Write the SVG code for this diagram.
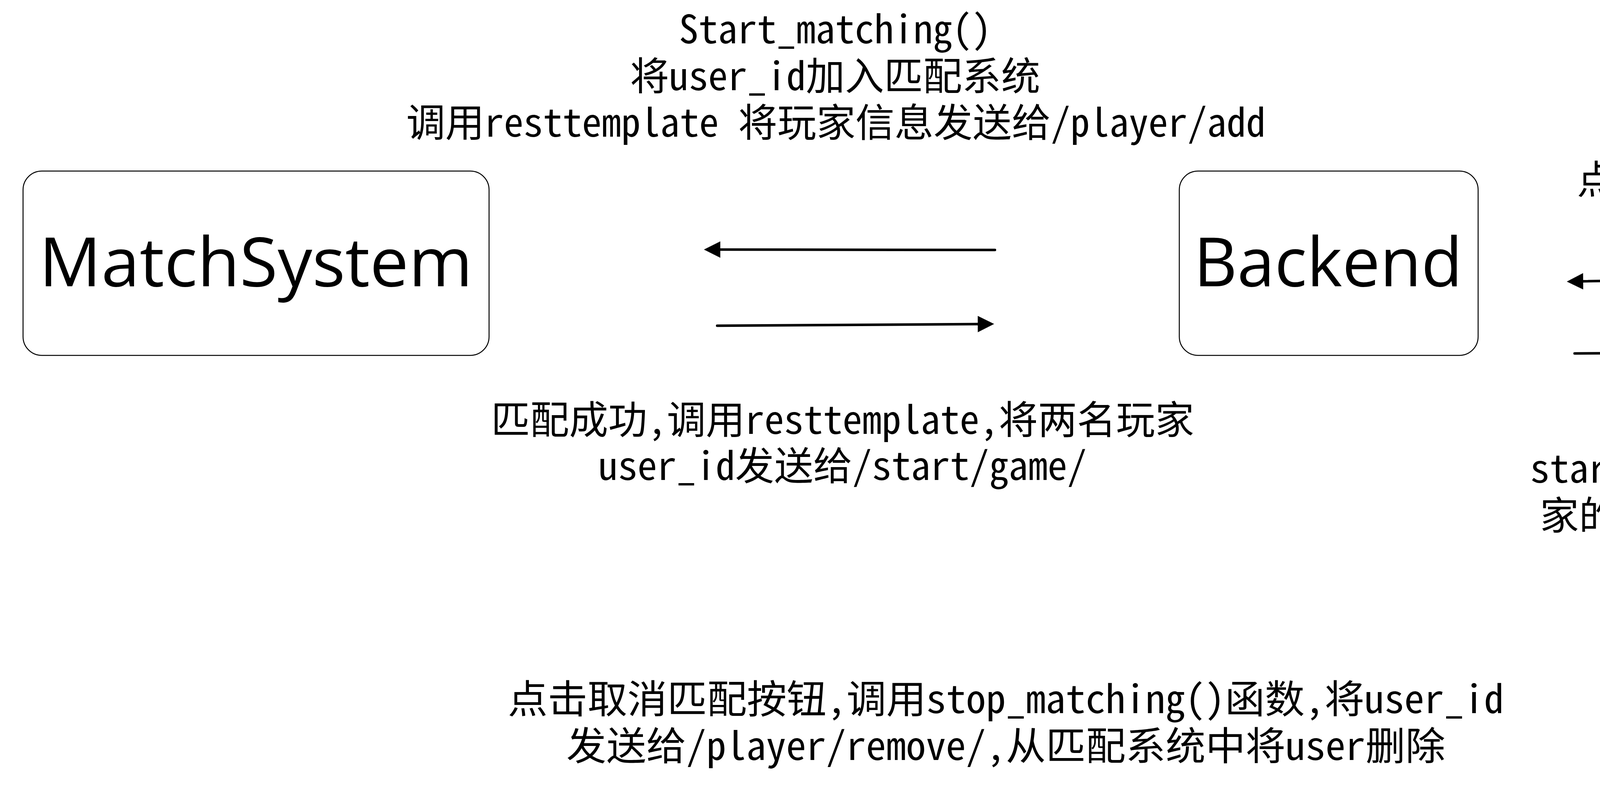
<svg xmlns="http://www.w3.org/2000/svg" width="5500" height="2010" viewBox="0 0 5500 2010">
<style>
.box{fill:#fff;stroke:#000;stroke-width:2.5}
.node{font-family:"Open Sans","Noto Sans",sans-serif;font-size:174px;fill:#000}
.lbl{font-family:"Noto Sans CJK SC",sans-serif;font-size:100px;fill:#000;font-feature-settings:"hwid" 1}
.conn{stroke:#000;stroke-width:6.5;stroke-linecap:round;fill:none}
</style>
<defs>
<marker id="ah" markerUnits="userSpaceOnUse" markerWidth="42" markerHeight="42" refX="12" refY="21" orient="auto" viewBox="0 0 42 42">
<path d="M0,0 L42,21 L0,42 Z" fill="#000"/>
</marker>
</defs>
<rect width="5500" height="2010" fill="#fff"/>
<g id="node-matchsystem">
<rect class="box" x="59" y="438" width="1193" height="472" rx="48" ry="48"/>
<text class="node" x="100" y="733" textLength="1110" lengthAdjust="spacingAndGlyphs">MatchSystem</text>
</g>
<g id="node-backend">
<rect class="box" x="3019" y="438" width="765" height="472" rx="48" ry="48"/>
<text class="node" x="3056" y="733" textLength="688" lengthAdjust="spacingAndGlyphs">Backend</text>
</g>
<g id="node-web">
<rect class="box" x="4908" y="438" width="587" height="472" rx="48" ry="48"/>
<text class="node" x="5030" y="733" textLength="345" lengthAdjust="spacingAndGlyphs">web</text>
</g>
<g id="connectors">
<path id="c-backend-match" class="conn" d="M2547,640 L1832,639" marker-end="url(#ah)"/>
<path id="c-match-backend" class="conn" d="M1836,834 L2515,829.7" marker-end="url(#ah)"/>
<path id="c-web-backend" class="conn" d="M4728,709 L4041,720.5" marker-end="url(#ah)"/>
<path id="c-backend-web" class="conn" d="M4031,905 L4709,901.6" marker-end="url(#ah)"/>
</g>
<g id="labels">
<g id="label-start-matching">
<text class="lbl" x="1738" y="111" textLength="800" lengthAdjust="spacingAndGlyphs">Start_matching()</text>
<text class="lbl" x="1613" y="231" textLength="1050" lengthAdjust="spacingAndGlyphs">将user_id加入匹配系统</text>
<text class="lbl" x="1040" y="350" textLength="2200" lengthAdjust="spacingAndGlyphs">调用resttemplate 将玩家信息发送给/player/add</text>
</g>
<g id="label-match-success">
<text class="lbl" x="1257" y="1111" textLength="1800" lengthAdjust="spacingAndGlyphs">匹配成功,调用resttemplate,将两名玩家</text>
<text class="lbl" x="1532" y="1229" textLength="1250" lengthAdjust="spacingAndGlyphs">user_id发送给/start/game/</text>
</g>
<g id="label-click-start">
<text class="lbl" x="4037" y="496" textLength="800" lengthAdjust="spacingAndGlyphs">点击开始匹配按钮</text>
</g>
<g id="label-start-game">
<text class="lbl" x="3917" y="1236" textLength="1050" lengthAdjust="spacingAndGlyphs">start_game(),将两名玩</text>
<text class="lbl" x="3942" y="1356" textLength="1000" lengthAdjust="spacingAndGlyphs">家的所有信息传给前端</text>
</g>
<g id="label-stop-matching">
<text class="lbl" x="1300" y="1826" textLength="2550" lengthAdjust="spacingAndGlyphs">点击取消匹配按钮,调用stop_matching()函数，将user_id</text>
<text class="lbl" x="1450" y="1946" textLength="2250" lengthAdjust="spacingAndGlyphs">发送给/player/remove/，从匹配系统中将user删除</text>
</g>
</g>
</svg>
